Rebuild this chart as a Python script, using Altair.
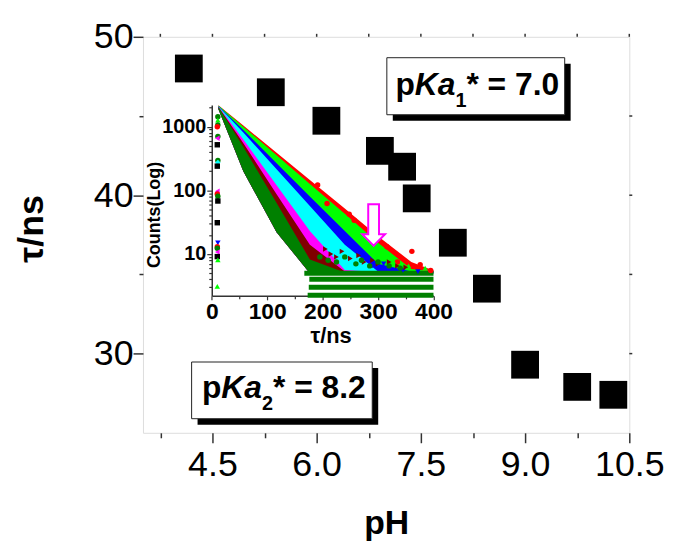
import altair as alt
import pandas as pd

FONT = "Liberation Sans"

# ---------------- main plot data ----------------
ph = [4.16, 5.34, 6.14, 6.91, 7.23, 7.44, 7.96, 8.45, 9.00, 9.75, 10.27]
tau_ns = [48.0, 46.5, 44.7, 42.8, 41.8, 39.8, 37.0, 34.1, 29.3, 27.9, 27.4]

x_ticks = [3.75, 4.5, 5.25, 6.0, 6.75, 7.5, 8.25, 9.0, 9.75, 10.5]
y_ticks = [30, 35, 40, 45, 50]
right_ticks = [30, 35, 40, 45]

# annotation boxes (corners in pH / tau units) and their text anchors
box_ph = [7.01, 4.20]
box_ph2 = [9.57, 6.80]
box_tau = [48.68, 29.47]
box_tau2 = [45.08, 25.89]
label_ph = [7.133, 4.349]
label_tau = [46.33, 27.22]
label_sub = ["1", "2"]
label_val = ["* = 7.0", "* = 8.2"]

# ---------------- inset data (decay curves) ----------------
t_grid = [12, 57, 117, 177, 240, 300, 360, 400]
lower_edge = [1900, 200, 22, 5.0, 5.0, 5.0, 5.0, 5.0]
red_up = [2180, 1040, 390, 145, 52, 19, 7.5, 5.5]
lime_up = [2150, 1000, 355, 126, 43, 15, 5.8, 5.3]
blue_up = [2120, 890, 267, 80, 23, 7.0, 5.3, 5.3]
cyan_up = [2100, 810, 215, 57, 14, 5.3, 5.2, 5.2]
magenta_up = [2080, 630, 120, 23, 5.6, 5.2, 5.1, 5.1]
maroon_up = [2060, 550, 87, 14, 5.3, 5.1, 5.1, 5.1]
dkgreen_up = [2040, 480, 63, 8.2, 5.1, 5.0, 5.0, 5.0]

# noise-floor rows
row_counts = [5, 4, 3, 2.25]
row_start = [167, 176, 175, 173]
row_end = [400, 400, 400, 400]

# rising-edge column near t = 10
col_t = [11, 11, 11, 10, 11, 10, 10, 11, 11, 10, 10, 10, 11, 11, 10, 11, 10, 10, 10, 10, 11, 10]
col_counts = [1430, 1270, 1060, 1000, 700, 660, 520, 295, 275, 240, 97, 88, 81, 68, 31,
              15, 13, 12.3, 10.7, 9.1, 8.1, 3.1]
col_series = ["dkgreen", "lime", "dkgreen", "red", "dkgreen", "magenta", "black", "dkgreen",
              "cyan", "black", "magenta", "red", "dkgreen", "black", "black",
              "blue", "red", "dkgreen", "magenta", "black", "lime", "lime"]

# scattered tail points
tail_t = [191, 208, 248, 257, 316, 335, 361, 376, 395,
          300, 330, 355, 385,
          290, 310, 345, 372,
          205, 215, 225, 235, 250, 265, 275, 290, 300, 320, 335, 350,
          195, 210, 225, 240, 260, 270, 285, 300, 320, 340]
tail_counts = [121, 62, 42, 34, 13, 7.5, 11, 6.8, 5.5,
               9, 7, 6.5, 6,
               6.5, 7, 5.5, 5.3,
               12, 10, 9, 11, 8.5, 9.5, 7.5, 8, 7, 7.5, 6.5, 6.2,
               9, 8, 7.5, 9, 7, 8, 6.5, 7.5, 6.5, 6]
tail_series = ["red"] * 9 + ["lime"] * 4 + ["blue"] * 4 + ["maroon"] * 12 + ["dkgreen"] * 10

arrow_t = [292]
arrow_counts = [28.5]

series_names = ["black", "red", "lime", "blue", "cyan", "magenta", "maroon", "dkgreen"]
series_colors = ["#000000", "#ff0000", "#00ff00", "#0000ff", "#00ffff", "#ff00ff", "#800000", "#008000"]
series_shapes = ["square", "circle", "triangle-up", "triangle-down", "diamond",
                 "triangle-left", "triangle-right", "circle"]

# ---------------- encodings ----------------
def main_x(field="pH"):
    return alt.X(
        f"{field}:Q",
        scale=alt.Scale(domain=[3.5, 10.5], nice=False, zero=False),
        axis=alt.Axis(
            values=x_ticks, title="pH", orient="bottom",
            labelExpr="datum.value % 1.5 === 0 ? format(datum.value, '.1f') : ''",
            tickSize={"condition": {"test": "datum.value % 1.5 === 0", "value": 10}, "value": 5},
            domain=False, grid=False, labelFlush=False, labelOverlap=False,
            labelFont=FONT, labelFontSize=36, labelPadding=5, labelColor="black",
            tickColor="#333333", tickWidth=1.5,
            titleFont=FONT, titleFontSize=34, titleFontWeight="bold", titleColor="black",
            titleY=91, titleBaseline="middle",
        ),
    )


def main_y(field="tau"):
    return alt.Y(
        f"{field}:Q",
        scale=alt.Scale(domain=[25, 50], nice=False, zero=False),
        axis=alt.Axis(
            values=y_ticks, title="τ/ns", orient="left",
            labelExpr="datum.value % 10 === 0 ? format(datum.value, 'd') : ''",
            tickSize={"condition": {"test": "datum.value % 10 === 0", "value": 10}, "value": 4},
            domain=False, grid=False, labelFlush=False, labelOverlap=False,
            labelFont=FONT, labelFontSize=36, labelPadding=0, labelColor="black",
            tickColor="#333333", tickWidth=1.5,
            titleFont=FONT, titleFontSize=36, titleFontWeight="bold", titleColor="black",
            titleX=-112, titleY=193, titleBaseline="middle",
        ),
    )


log_ticks = [3, 4, 5, 6, 7, 8, 9, 10, 20, 30, 40, 50, 60, 70, 80, 90,
             100, 200, 300, 400, 500, 600, 700, 800, 900, 1000, 2000]


def inset_x(field="t"):
    return alt.X(
        f"{field}:Q",
        scale=alt.Scale(domain=[0, 400], range=[69.3, 292.7], nice=False, zero=False),
        axis=alt.Axis(
            values=[0, 50, 100, 150, 200, 250, 300, 350, 400], title="τ/ns", orient="bottom",
            offset=-138,
            labelExpr="datum.value % 100 === 0 ? format(datum.value, 'd') : ''",
            tickSize={"condition": {"test": "datum.value % 100 === 0", "value": 4}, "value": 3},
            domain=True, domainColor="#333333", domainWidth=1.5, grid=False,
            labelFlush=False, labelOverlap=False,
            labelFont=FONT, labelFontSize=23, labelFontWeight="bold", labelPadding=1,
            labelColor="black", tickColor="#333333", tickWidth=1.2,
            titleFont=FONT, titleFontSize=22, titleFontWeight="bold", titleColor="black",
            titleX=189, titleY=40, titleBaseline="middle",
        ),
    )


def inset_y(field="counts"):
    return alt.Y(
        f"{field}:Q",
        scale=alt.Scale(type="log", domain=[2.2, 2200], range=[261, 68.6], nice=False),
        axis=alt.Axis(
            values=log_ticks, title="Counts(Log)", orient="left",
            offset=-69.3,
            labelExpr="indexof([10, 100, 1000], datum.value) >= 0 ? format(datum.value, 'd') : ''",
            tickSize={"condition": {"test": "indexof([10, 100, 1000], datum.value) >= 0", "value": 5},
                      "value": 3},
            domain=True, domainColor="#333333", domainWidth=1.5, grid=False,
            labelFlush=False, labelOverlap=False,
            labelFont=FONT, labelFontSize=20, labelFontWeight="bold", labelPadding=1,
            labelColor="black", tickColor="#333333", tickWidth=1.2,
            titleFont=FONT, titleFontSize=18, titleFontWeight="bold", titleColor="black",
            titleX=-58, titleY=179, titleBaseline="middle",
        ),
    )


# ---------------- inset layers ----------------
inset_layers = []
band_defs = [("red", red_up), ("lime", lime_up), ("blue", blue_up), ("cyan", cyan_up),
             ("magenta", magenta_up), ("maroon", maroon_up), ("dkgreen", dkgreen_up)]
for name, up in band_defs:
    df = pd.DataFrame({"t": t_grid, "counts": up, "lower": lower_edge, "series": name})
    col = series_colors[series_names.index(name)]
    inset_layers.append(
        alt.Chart(df).mark_area(fill=col, opacity=1).encode(
            x=inset_x(), y=inset_y(), y2=alt.Y2("lower")
        )
    )

rows_df = pd.DataFrame({"t": row_start, "t2": row_end, "counts": row_counts})
inset_layers.append(
    alt.Chart(rows_df).mark_rule(color="#008000", strokeWidth=5).encode(
        x=inset_x(), x2="t2:Q", y=inset_y()
    )
)

pts_df = pd.DataFrame({
    "t": col_t + tail_t,
    "counts": col_counts + tail_counts,
    "series": col_series + tail_series,
})
inset_layers.append(
    alt.Chart(pts_df).mark_point(filled=True, size=30, opacity=1).encode(
        x=inset_x(), y=inset_y(),
        color=alt.Color("series:N", scale=alt.Scale(domain=series_names, range=series_colors), legend=None),
        shape=alt.Shape("series:N", scale=alt.Scale(domain=series_names, range=series_shapes), legend=None),
    )
)

arrow_df = pd.DataFrame({"t": arrow_t, "counts": arrow_counts})
arrow_shape = "M -0.26 -1 L 0.26 -1 L 0.26 0.44 L 0.55 0.44 L 0 1 L -0.55 0.44 L -0.26 0.44 Z"
inset_layers.append(
    alt.Chart(arrow_df).mark_point(
        shape=arrow_shape, size=1750, filled=True, fill="white", stroke="#ff00ff",
        strokeWidth=2, opacity=1
    ).encode(x=inset_x(), y=inset_y())
)

inset = alt.layer(*inset_layers)

# ---------------- main layers ----------------
main_df = pd.DataFrame({"pH": ph, "tau": tau_ns})
squares = alt.Chart(main_df).mark_square(size=784, color="black", opacity=1).encode(
    x=main_x(), y=main_y()
)

top_df = pd.DataFrame({"pH": x_ticks})
top_ticks = alt.Chart(top_df).mark_rule(color="#333333", strokeWidth=1.5).encode(
    x=main_x(), y=alt.value(-3), y2=alt.value(0)
)
right_df = pd.DataFrame({"tau": right_ticks})
right_tick_marks = alt.Chart(right_df).mark_rule(color="#333333", strokeWidth=1.5).encode(
    y=main_y(), x=alt.value(490), x2=alt.value(493)
)

box_df = pd.DataFrame({"pH": box_ph, "pH2": box_ph2, "tau": box_tau, "tau2": box_tau2})
shadow = alt.Chart(box_df).mark_rect(
    color="black", opacity=1, xOffset=6, x2Offset=6, yOffset=6, y2Offset=6
).encode(x=main_x(), x2="pH2:Q", y=main_y(), y2="tau2:Q")
box = alt.Chart(box_df).mark_rect(
    fill="white", stroke="#222222", strokeWidth=1, opacity=1
).encode(x=main_x(), x2="pH2:Q", y=main_y(), y2="tau2:Q")

lab_df = pd.DataFrame({"pH": label_ph, "tau": label_tau, "sub": label_sub, "val": label_val})
text_common = dict(font=FONT, fontWeight="bold", align="left", baseline="alphabetic", color="black")
t_p = alt.Chart(lab_df).mark_text(fontSize=32, dx=0, **text_common).encode(
    x=main_x(), y=main_y(), text=alt.value("p"))
t_ka = alt.Chart(lab_df).mark_text(fontSize=32, dx=19.5, fontStyle="italic", **text_common).encode(
    x=main_x(), y=main_y(), text=alt.value("Ka"))
t_sub = alt.Chart(lab_df).mark_text(fontSize=20, dx=60.5, dy=12, **text_common).encode(
    x=main_x(), y=main_y(), text="sub:N")
t_val = alt.Chart(lab_df).mark_text(fontSize=32, dx=71.6, **text_common).encode(
    x=main_x(), y=main_y(), text="val:N")

main = alt.layer(squares, shadow, box, t_p, t_ka, t_sub, t_val, top_ticks, right_tick_marks)

chart = (
    alt.layer(inset, main)
    .resolve_scale(x="independent", y="independent")
    .resolve_axis(x="independent", y="independent")
    .properties(
        width=490, height=399,
        autosize=alt.AutoSizeParams(type="none"),
        padding={"left": 136, "top": 27, "right": 40, "bottom": 110},
    )
    .configure_view(stroke="#333333", strokeWidth=1.5)
    .configure(background="white")
)

chart.save("out.html", embed_options={"renderer": "svg", "actions": False})
